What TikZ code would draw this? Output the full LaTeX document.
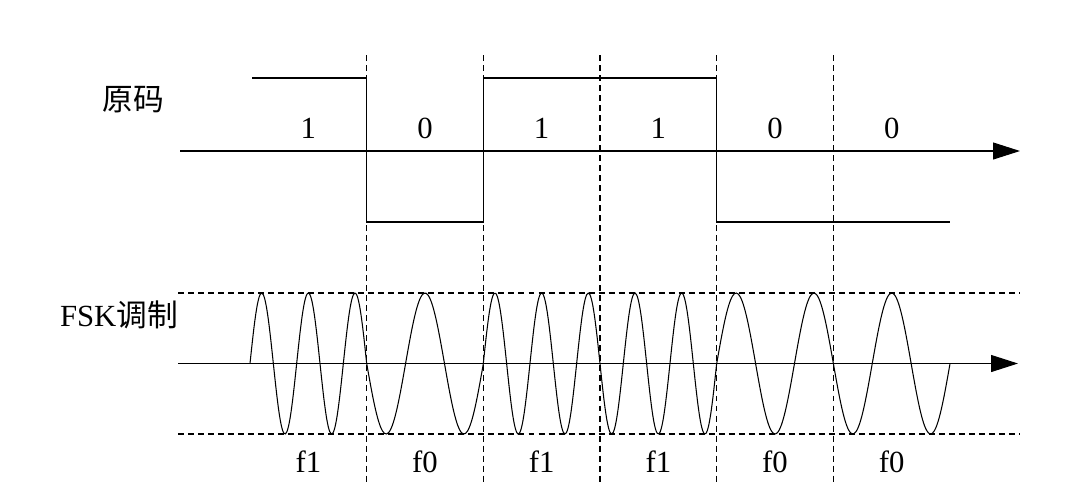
\documentclass[tikz,border=0pt]{standalone}
\usepackage{fontspec}
\setmainfont{Liberation Serif}
\newfontfamily\cjk{Noto Sans CJK SC}
\usetikzlibrary{arrows.meta}

\def\bitsep{116.67}
\def\fone{46.67}
\def\fzero{77.78}

\begin{document}
\begin{tikzpicture}[x=0.02cm,y=-0.02cm,line width=0.6pt,font=\fontsize{17.5}{20}\selectfont]
\tikzstyle{grid line}=[draw=black,line width=0.6pt,dash pattern=on 3.4pt off 2.3pt]
\tikzstyle{axis}=[-{Triangle[length=0.54cm,width=0.34cm]},line width=0.6pt]
\tikzstyle{wave}=[line width=0.6pt,smooth]
\tikzstyle{annot}=[inner sep=0pt]
\useasboundingbox (0,0) rectangle (1076,498);

% Draw the bit boundaries
\foreach \i in {1,...,5}
{
  \coordinate (T\i) at ({250+\i*\bitsep},55);
  \coordinate (B\i) at ({250+\i*\bitsep},482);
  \draw[grid line] (T\i) -- (B\i);
}

% Source code signal
\coordinate (code start) at (180,151);
\coordinate (code end) at (1020,151);
\draw[axis] (code start) -- (code end);
\draw (252,78) -- (366.7,78) -- (366.7,222) -- (483.3,222) -- (483.3,78)
  -- (716.7,78) -- (716.7,222) -- (950,222);

% FSK signal
\coordinate (fsk start) at (178,363.5);
\coordinate (fsk end) at (1018,363.5);
\coordinate (max start) at (178,293);
\coordinate (max end) at (1020,293);
\coordinate (min start) at (178,434);
\coordinate (min end) at (1020,434);
\draw[grid line] (max start) -- (max end);
\draw[grid line] (min start) -- (min end);
\draw[axis] (fsk start) -- (fsk end);

\draw[wave] plot[domain=250:366.7,samples=80] (\x,{363.5-70.5*sin((\x-250)/\fone*360)});
\draw[wave] plot[domain=366.7:483.3,samples=60] (\x,{363.5+70.5*sin((\x-366.7)/\fzero*360)});
\draw[wave] plot[domain=483.3:716.7,samples=150] (\x,{363.5-70.5*sin((\x-483.3)/\fone*360)});
\draw[wave] plot[domain=716.7:950,samples=120] (\x,{363.5-70.5*sin((\x-716.7)/\fzero*360)});

% Annotate the bits
\foreach \b/\v in {1/1,2/0,3/1,4/1,5/0,6/0}
  \node[annot] (bit\b) at ({250+(\b-0.5)*\bitsep},128) {\v};
\foreach \b/\f in {1/f1,2/f0,3/f1,4/f1,5/f0,6/f0}
  \node[annot] (freq\b) at ({250+(\b-0.5)*\bitsep},462) {\f};

\node[annot] (code) at (133,100) {\cjk 原码};
\node[annot] (fsk) at (119,315) {FSK\cjk 调制};
\end{tikzpicture}
\end{document}
